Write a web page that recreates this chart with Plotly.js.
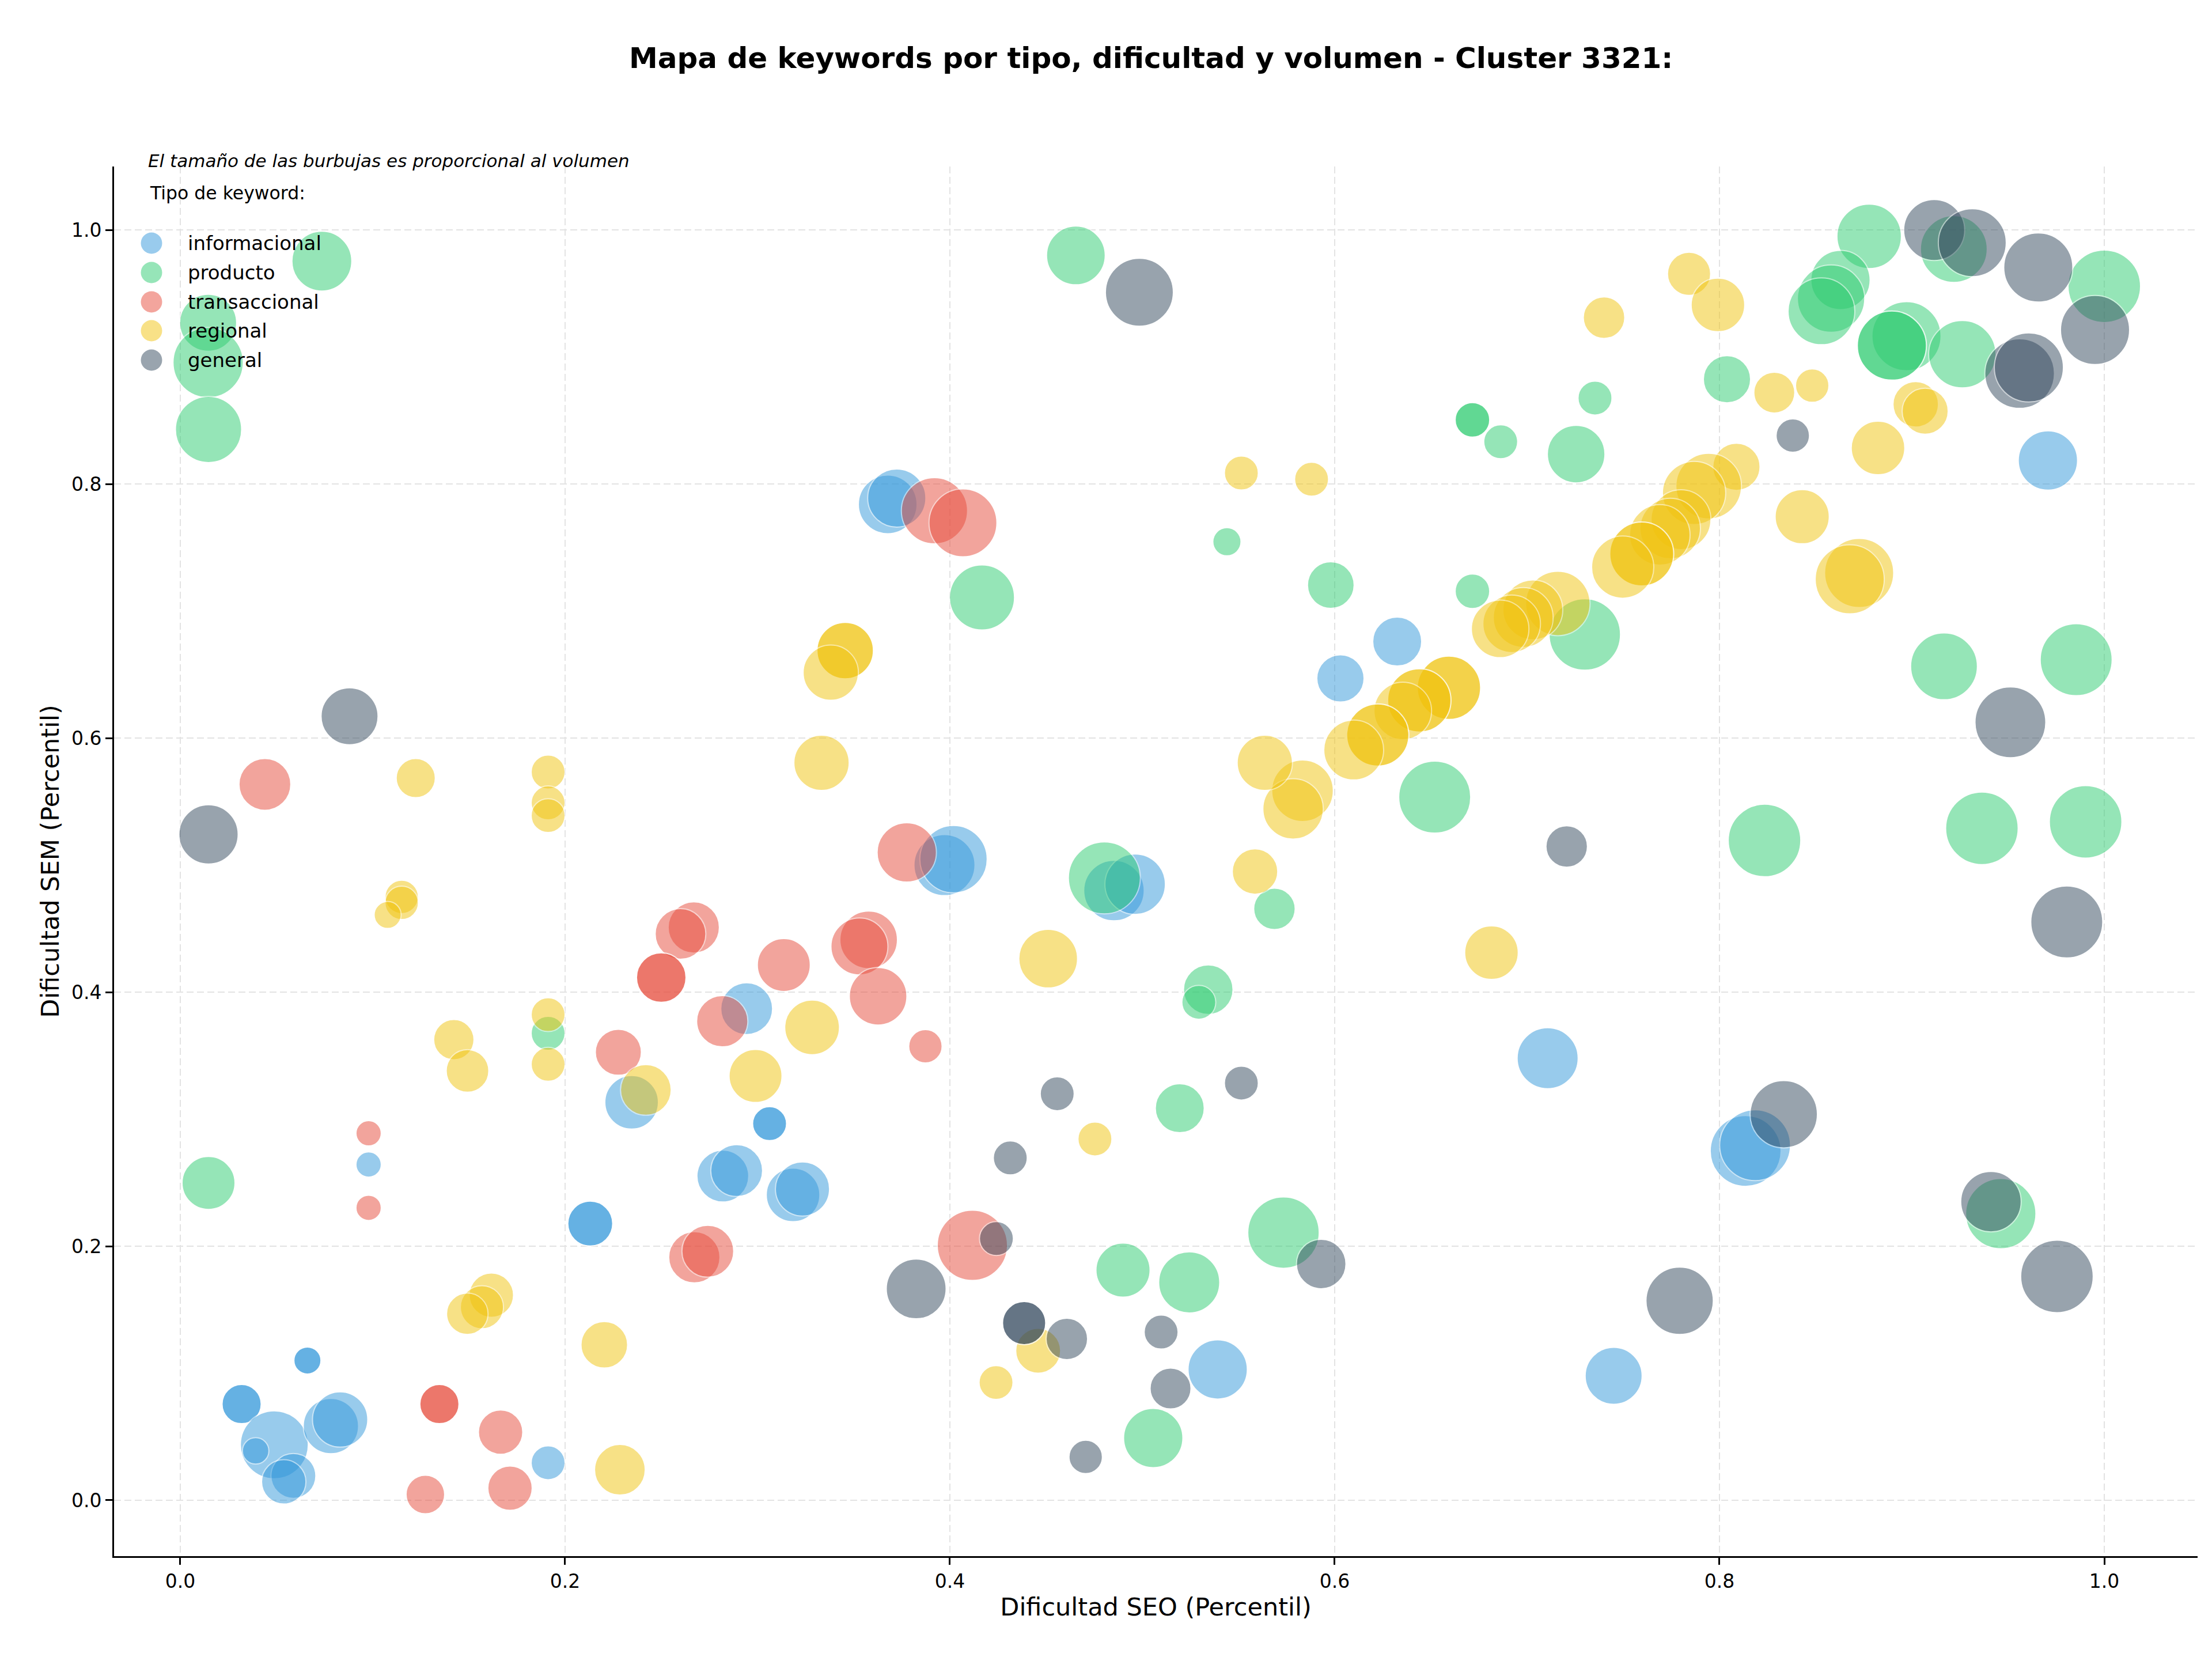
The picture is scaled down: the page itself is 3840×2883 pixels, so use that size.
<!DOCTYPE html>
<html>
<head>
<meta charset="utf-8">
<script src="https://cdn.plot.ly/plotly-3.0.1.min.js"></script>
<style>
  html, body { margin: 0; padding: 0; background: #ffffff; }
  #grafico { width: 3840px; height: 2883px; }
</style>
</head>
<body>
<div id="grafico"></div>
<script>
// Tipos de keyword y su color
const tipos = ['informacional', 'producto', 'transaccional', 'regional', 'general'];
const colores = ['#3498db', '#2ecc71', '#e74c3c', '#f1c40f', '#34495e'];

// informacional
const seoInformacional = [0.3677,0.3724,0.6325,0.6030,0.7107,0.5392,0.7450,0.8136,0.8185,0.9707,0.3972,0.4019,0.4853,0.4963,0.2944,0.3063,0.3063,0.2820,0.2892,0.3185,0.3234,0.0979,0.2131,0.2131,0.0661,0.0661,0.0319,0.0319,0.0489,0.0392,0.0588,0.0538,0.0783,0.0831,0.1912,0.2346];
const semInformacional = [0.784,0.789,0.676,0.647,0.348,0.103,0.098,0.275,0.2795,0.8186,0.500,0.5047,0.480,0.485,0.387,0.2965,0.2965,0.2552,0.2595,0.2404,0.245,0.2643,0.2178,0.2178,0.110,0.110,0.0757,0.0757,0.0437,0.0389,0.0192,0.0145,0.0584,0.0636,0.0295,0.3133];
const volInformacional = [6550,6430,4550,4240,7080,6680,6170,9530,9530,6680,7080,8620,6950,6950,5100,2190,2190,5100,5100,5450,5570,1220,3830,3830,1390,1390,2910,2910,8770,1330,3830,3740,5810,5810,2190,5450];

// producto
const seoProducto = [0.0736,0.0145,0.0145,0.0147,0.4655,0.4167,0.7353,0.6716,0.6716,0.6863,0.7255,0.5440,0.5980,0.6716,0.7300,0.6520,0.5687,0.5343,0.5294,0.5195,0.8778,0.9218,1.0000,0.8629,0.8580,0.8530,0.8972,0.8896,0.8896,0.9262,0.8039,0.9167,0.9854,0.8234,0.9364,0.9903,0.9462,0.5734,0.5244,0.5057,0.4900,0.4803,0.0147,0.1912];
const semProducto = [0.9755,0.927,0.8957,0.843,0.980,0.7107,0.8677,0.8505,0.8505,0.8333,0.8236,0.7546,0.7205,0.7156,0.6816,0.5536,0.4656,0.402,0.392,0.3086,0.995,0.985,0.9557,0.9606,0.946,0.936,0.9164,0.909,0.909,0.9022,0.8825,0.6565,0.6617,0.5194,0.529,0.5341,0.2256,0.2107,0.1715,0.049,0.1812,0.490,0.2498,0.3676];
const volProducto = [6810,6170,9380,8330,6550,8040,2190,2270,2270,2190,6300,1510,4130,2270,9690,9840,3270,4660,2190,4550,7900,8480,10000,6680,8620,8480,9070,9070,9070,8620,4240,8480,9840,10000,10000,10000,9380,9690,7080,6680,5570,9840,5330,2190];

// transaccional
const seoTransaccional = [0.392,0.4068,0.3776,0.044,0.2669,0.260,0.250,0.250,0.3137,0.3578,0.353,0.3627,0.3873,0.2817,0.2277,0.0979,0.0979,0.2672,0.2742,0.4117,0.1347,0.1347,0.1665,0.1274,0.1714];
const semTransaccional = [0.779,0.7695,0.510,0.5636,0.451,0.4458,0.4115,0.4115,0.4214,0.4412,0.436,0.3968,0.3574,0.3771,0.3527,0.2889,0.2302,0.1913,0.196,0.2007,0.0757,0.0757,0.0536,0.0045,0.0095];
const volTransaccional = [8330,8770,6680,5100,4990,4880,4660,4660,5330,6300,6170,6300,2120,4990,4030,1220,1220,4990,5100,9380,2910,2910,3740,2830,3740];

// regional
const seoRegional = [0.740,0.5515,0.588,0.7842,0.7992,0.8285,0.8482,0.902,0.9069,0.8824,0.8088,0.7944,0.7868,0.780,0.7744,0.769,0.7596,0.7596,0.7497,0.843,0.8726,0.8677,0.716,0.703,0.698,0.692,0.686,0.6594,0.6594,0.644,0.644,0.6354,0.6224,0.6224,0.6099,0.5833,0.5784,0.5637,0.5586,0.6815,0.4511,0.3456,0.3456,0.3381,0.3333,0.3284,0.299,0.242,0.4754,0.4459,0.424,0.1224,0.1912,0.1912,0.1912,0.1151,0.1151,0.1078,0.1912,0.1912,0.1422,0.1493,0.1617,0.1568,0.1492,0.2204,0.2285];
const semRegional = [0.931,0.8087,0.8038,0.9655,0.941,0.872,0.8775,0.8628,0.8574,0.8284,0.8136,0.7984,0.793,0.772,0.765,0.760,0.745,0.745,0.7346,0.7743,0.730,0.725,0.706,0.701,0.695,0.690,0.686,0.6396,0.6396,0.6297,0.6297,0.6214,0.6024,0.6024,0.5906,0.5586,0.5443,0.5806,0.495,0.4311,0.4264,0.6689,0.6689,0.6515,0.5806,0.3723,0.334,0.323,0.2844,0.1177,0.0927,0.5685,0.5733,0.549,0.539,0.475,0.4703,0.4608,0.3823,0.3432,0.3626,0.338,0.1615,0.152,0.1468,0.1224,0.024];
const volRegional = [3270,2190,2190,3540,5450,3180,2120,3930,4030,5450,4240,8190,7620,6810,6950,6950,7760,7760,7350,5570,9070,9070,7900,6810,6810,6300,6300,7620,7620,7620,7620,6300,7350,7350,6810,7210,6950,5810,3930,5450,6550,6050,6050,5810,5810,5690,5330,4880,2190,3830,2190,2910,2190,2190,2190,2120,2120,1390,2190,2190,3090,3450,3740,3540,3270,4130,4880];

// general
const seoGeneral = [0.4985,0.9116,0.9314,0.9657,0.9952,0.956,0.9608,0.8381,0.7206,0.5515,0.9512,0.9805,0.8334,0.9411,0.9754,0.7793,0.593,0.5098,0.5147,0.3825,0.4242,0.4314,0.4558,0.4386,0.4386,0.4608,0.4706,0.088,0.0147];
const semGeneral = [0.951,1.0,0.990,0.9705,0.9213,0.887,0.8918,0.8382,0.5147,0.3284,0.6124,0.4553,0.3039,0.2351,0.1762,0.157,0.186,0.1324,0.088,0.1664,0.206,0.2695,0.320,0.1395,0.1395,0.127,0.0341,0.6172,0.5242];
const volGeneral = [8770,7080,8770,9070,9070,9220,9070,2120,3270,2190,9530,9840,8620,6950,10000,8620,4660,2190,3180,6810,2190,2190,2190,3540,3540,3270,2120,6170,6680];

const xTicks = [0, 0.2, 0.4, 0.6, 0.8, 1.0];
const yTicks = [0, 0.2, 0.4, 0.6, 0.8, 1.0];

const series = [
  [seoInformacional, semInformacional, volInformacional],
  [seoProducto, semProducto, volProducto],
  [seoTransaccional, semTransaccional, volTransaccional],
  [seoRegional, semRegional, volRegional],
  [seoGeneral, semGeneral, volGeneral]
];

// diámetro de la burbuja proporcional a la raíz del volumen (área ~ volumen)
const escalaBurbuja = 1.26;
const FUENTE = 'DejaVu Sans, Liberation Sans, sans-serif';

const trazas = series.map(function (s, i) {
  return {
    type: 'scatter',
    mode: 'markers',
    name: tipos[i],
    x: s[0],
    y: s[1],
    showlegend: false,
    hoverinfo: 'x+y+name',
    cliponaxis: true,
    marker: {
      color: colores[i],
      opacity: 0.5,
      size: s[2].map(function (v) { return Math.sqrt(v) * escalaBurbuja; }),
      sizemode: 'diameter',
      line: { color: '#ffffff', width: 2 }
    }
  };
});

// Área de trazado en píxeles
const W = 3840, H = 2883;
const M = { l: 198, r: 25, t: 289, b: 182 };
const plotW = W - M.l - M.r, plotH = H - M.t - M.b;
const px = function (x) { return (x - M.l) / plotW; };
const py = function (y) { return (H - M.b - y) / plotH; };

// Leyenda dibujada a mano para conservar marcadores grandes
const legendaY = [422, 473, 524, 574, 625];
const formas = tipos.map(function (t, i) {
  return {
    type: 'circle', xref: 'paper', yref: 'paper',
    xsizemode: 'pixel', ysizemode: 'pixel',
    xanchor: px(263), yanchor: py(legendaY[i]),
    x0: -18.5, x1: 18.5, y0: -18.5, y1: 18.5,
    fillcolor: colores[i], opacity: 0.5,
    line: { width: 0 }, layer: 'above'
  };
});

const anotaciones = tipos.map(function (t, i) {
  return {
    xref: 'paper', yref: 'paper',
    x: px(324), y: py(legendaY[i]),
    xanchor: 'left', yanchor: 'middle',
    text: t, showarrow: false,
    font: { family: FUENTE, size: 34, color: '#000000' }
  };
});
anotaciones.push({
  xref: 'paper', yref: 'paper', x: px(258), y: py(335),
  xanchor: 'left', yanchor: 'middle', showarrow: false,
  text: 'Tipo de keyword:',
  font: { family: FUENTE, size: 31.5, color: '#000000' }
});
anotaciones.push({
  xref: 'paper', yref: 'paper', x: px(255), y: py(279),
  xanchor: 'left', yanchor: 'middle', showarrow: false,
  text: '<i>El tamaño de las burbujas es proporcional al volumen</i>',
  font: { family: FUENTE, size: 31, color: '#000000' }
});

const ejeComun = {
  showline: true, linecolor: '#000000', linewidth: 3,
  ticks: 'outside', ticklen: 12, tickwidth: 3, tickcolor: '#000000',
  showgrid: true, gridcolor: '#e3e3e3', gridwidth: 2.5, griddash: '12px,6px',
  zeroline: false, tickformat: '.1f',
  tickfont: { family: FUENTE, size: 33, color: '#000000' },
  mirror: false, automargin: false
};

const layout = {
  width: W, height: H,
  margin: M,
  paper_bgcolor: '#ffffff', plot_bgcolor: '#ffffff',
  showlegend: false,
  hovermode: 'closest',
  title: {
    text: 'Mapa de keywords por tipo, dificultad y volumen - Cluster 3321:',
    font: { family: FUENTE, size: 50, color: '#000000', weight: 'bold' },
    xref: 'paper', x: 0.4977, xanchor: 'center',
    yref: 'container', y: 1 - 100 / H, yanchor: 'middle'
  },
  xaxis: Object.assign({}, ejeComun, {
    range: [-0.0344, 1.0485],
    tickvals: xTicks,
    title: { text: 'Dificultad SEO (Percentil)', font: { family: FUENTE, size: 43, color: '#000000' }, standoff: 12 }
  }),
  yaxis: Object.assign({}, ejeComun, {
    range: [-0.044, 1.050],
    tickvals: yTicks,
    title: { text: 'Dificultad SEM (Percentil)', font: { family: FUENTE, size: 43, color: '#000000' }, standoff: 8 }
  }),
  shapes: formas,
  annotations: anotaciones
};

Plotly.newPlot('grafico', trazas, layout, { staticPlot: true, displayModeBar: false });
</script>
</body>
</html>
